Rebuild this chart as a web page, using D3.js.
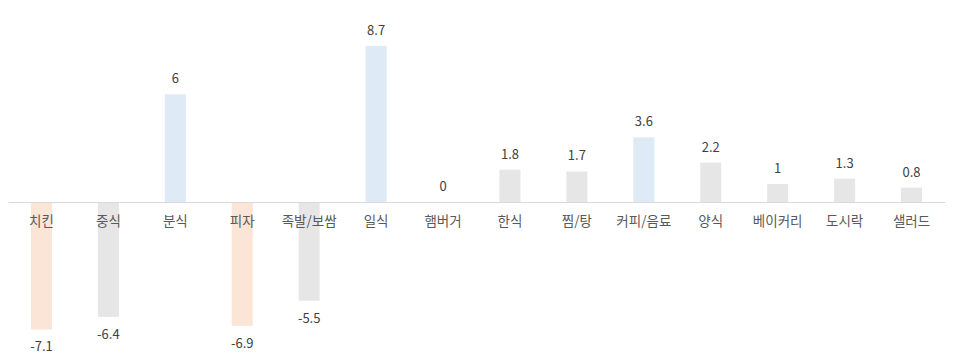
<!DOCTYPE html>
<html><head><meta charset="utf-8">
<script src="https://cdn.jsdelivr.net/npm/d3@7"></script>
<style>
body{margin:0;background:#fff;}
text{font-family:"Noto Sans CJK KR","Noto Sans",sans-serif;}
</style></head>
<body><svg id="c" width="958" height="360"></svg>
<script>
const categories = ["치킨","중식","분식","피자","족발/보쌈","일식","햄버거","한식","찜/탕","커피/음료","양식","베이커리","도시락","샐러드"];
const values = [-7.1,-6.4,6,-6.9,-5.5,8.7,0,1.8,1.7,3.6,2.2,1,1.3,0.8];
const groups = ["neg","gray","pos","neg","gray","pos","gray","gray","gray","pos","gray","gray","gray","gray"];
const colors = {neg:"#FBE5D6", pos:"#DEEBF7", gray:"#E7E6E6"};

const svg = d3.select("#c");
const x = d3.scaleBand().domain(categories).range([8,945]).paddingInner(0.686).paddingOuter(0.343);
const y = d3.scaleLinear().domain([-10,10]).range([202+179.5, 202-179.5]);

svg.append("g").selectAll("rect").data(categories).join("rect")
  .attr("x", d=>x(d))
  .attr("width", x.bandwidth())
  .attr("y", (d,i)=>Math.min(y(values[i]), y(0)))
  .attr("height", (d,i)=>Math.abs(y(values[i])-y(0)))
  .attr("fill", (d,i)=>colors[groups[i]]);

const ax = svg.append("g").attr("transform",`translate(0,${y(0)})`)
  .call(d3.axisBottom(x).tickSize(0).tickSizeOuter(0).tickPadding(14));
ax.select(".domain").attr("stroke","#D9D9D9").attr("stroke-width",1.2);
ax.selectAll("text").attr("fill","#595959").attr("font-size",13.5)
  .style("font-family",'"Noto Sans CJK KR","Noto Sans",sans-serif');

svg.append("g").selectAll("text").data(categories).join("text")
  .attr("x", d=>x(d)+x.bandwidth()/2)
  .attr("y", (d,i)=> values[i] >= 0 ? y(values[i]) - 11 : y(values[i]) + 22)
  .attr("text-anchor","middle")
  .attr("fill","#404040")
  .attr("font-size",13)
  .text((d,i)=>values[i]);
</script></body></html>
